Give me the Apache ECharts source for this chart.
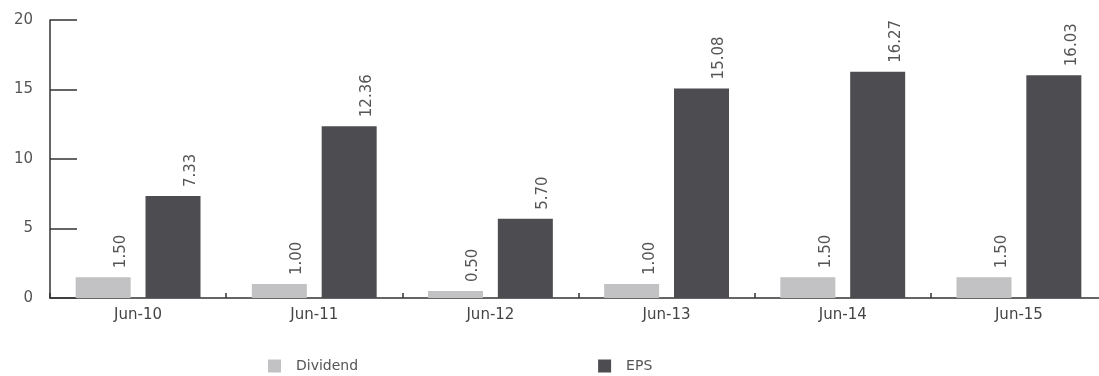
<!DOCTYPE html>
<html>
<head>
<meta charset="utf-8">
<script src="https://cdn.jsdelivr.net/npm/echarts@6/dist/echarts.min.js"></script>
<style>html,body{margin:0;padding:0;background:#fff}#c{width:1099px;height:376px}</style>
</head>
<body>
<div id="c"></div>
<script>
var categories = ['Jun-10', 'Jun-11', 'Jun-12', 'Jun-13', 'Jun-14', 'Jun-15'];
var dividend = [1.50, 1.00, 0.50, 1.00, 1.50, 1.50];
var eps = [7.33, 12.36, 5.70, 15.08, 16.27, 16.03];
var yTicks = [0, 5, 10, 15, 20];

var FONT = 'DejaVu Sans, Verdana, sans-serif';
var chart = echarts.init(document.getElementById('c'));
var labelCfg = {
  show: true,
  position: 'top',
  rotate: 90,
  align: 'left',
  verticalAlign: 'middle',
  distance: 9,
  offset: [0, 18],
  color: '#555',
  fontFamily: FONT,
  fontSize: 15,
  formatter: function (p) { return p.value.toFixed(2); }
};
chart.setOption({
  animation: false,
  backgroundColor: '#fff',
  textStyle: { fontFamily: FONT },
  grid: { left: 50, top: 20, width: 1057, height: 278, containLabel: false, outerBoundsMode: 'none' },
  legend: {
    top: 359,
    left: 268,
    padding: 0,
    itemWidth: 13,
    itemHeight: 13,
    itemGap: 240,
    icon: 'rect',
    textStyle: { color: '#555', fontSize: 14, fontFamily: FONT, padding: [0, 0, 0, 10] },
    data: ['Dividend', 'EPS']
  },
  xAxis: {
    type: 'category',
    data: categories,
    axisLine: { lineStyle: { color: '#333', width: 1.5 } },
    axisTick: { show: true, inside: true, length: 5, lineStyle: { color: '#333', width: 1.5 } },
    axisLabel: { color: '#444', fontSize: 15, fontFamily: FONT, margin: 10 }
  },
  yAxis: {
    type: 'value',
    min: 0,
    max: 20,
    interval: 5,
    axisLine: { show: true, lineStyle: { color: '#333', width: 1.5 } },
    axisTick: { show: true, inside: true, length: 27, lineStyle: { color: '#333', width: 1.5 } },
    splitLine: { show: false },
    axisLabel: {
      color: '#555', fontSize: 15, fontFamily: FONT, margin: 17,
      formatter: function (v) { return yTicks.indexOf(v) >= 0 ? String(v) : ''; }
    }
  },
  series: [
    {
      name: 'Dividend', type: 'bar', data: dividend,
      barWidth: 55, barGap: '27%',
      itemStyle: { color: '#c2c2c5' },
      label: labelCfg
    },
    {
      name: 'EPS', type: 'bar', data: eps,
      barWidth: 55,
      itemStyle: { color: '#4c4c51' },
      label: labelCfg
    }
  ]
});
</script>
</body>
</html>
